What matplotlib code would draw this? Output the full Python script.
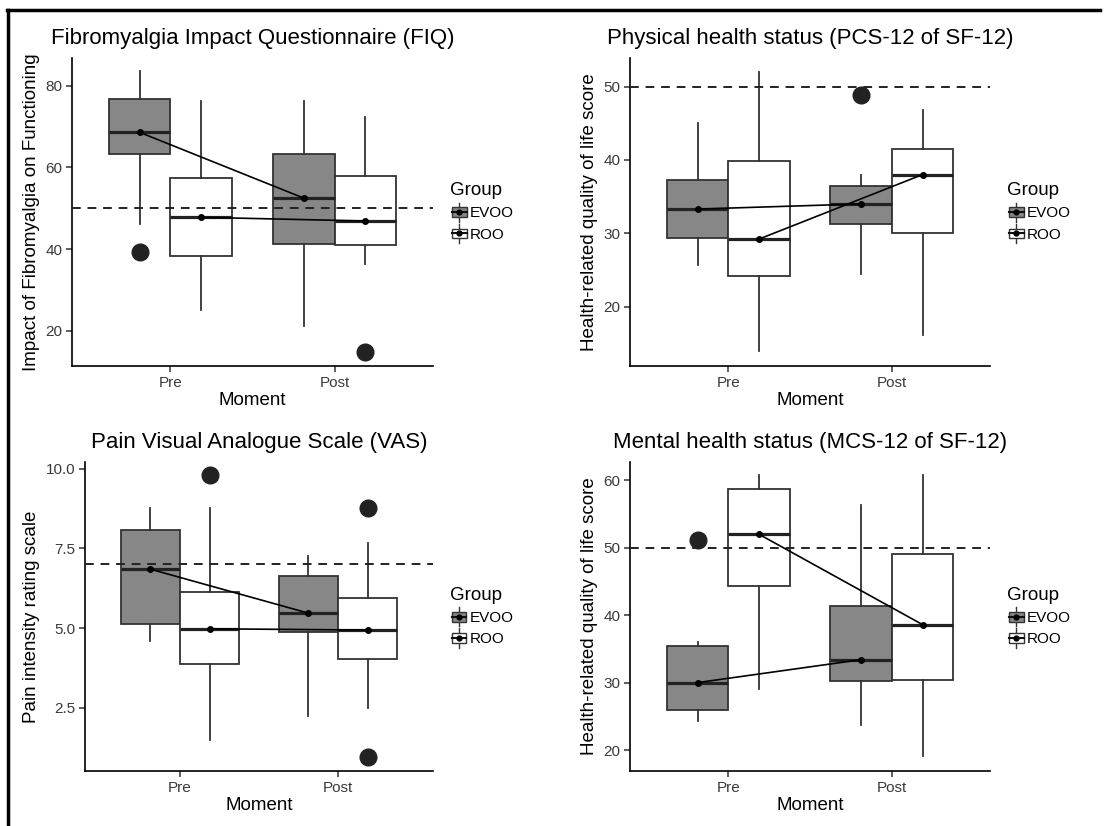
import matplotlib
matplotlib.use('Agg')
import matplotlib.pyplot as plt
from matplotlib.lines import Line2D
from matplotlib.patches import Rectangle, Patch
from matplotlib.legend_handler import HandlerBase

plt.rcParams['font.family'] = ['Liberation Sans', 'DejaVu Sans']

moments = ['Pre', 'Post']
groups = ['EVOO', 'ROO']
group_fill = {'EVOO': '#878787', 'ROO': '#ffffff'}

# five-number summaries [whislo, q1, med, q3, whishi] for Pre and Post
fiq_evoo = [[46.2, 63.3, 68.6, 76.7, 83.5], [21.2, 41.2, 52.5, 63.4, 76.2]]
fiq_roo = [[25.1, 38.4, 47.8, 57.5, 76.2], [36.3, 41.1, 46.9, 57.8, 72.3]]
fiq_evoo_out = [[39.3], []]
fiq_roo_out = [[], [14.9]]

pcs_evoo = [[25.7, 29.3, 33.3, 37.2, 45.1], [24.4, 31.2, 34.0, 36.4, 37.9]]
pcs_roo = [[13.9, 24.2, 29.2, 39.8, 52.0], [16.1, 30.0, 38.0, 41.5, 46.8]]
pcs_evoo_out = [[], [48.9]]
pcs_roo_out = [[], []]

vas_evoo = [[4.59, 5.14, 6.85, 8.08, 8.78], [2.26, 4.87, 5.47, 6.64, 7.25]]
vas_roo = [[1.50, 3.88, 4.98, 6.14, 8.78], [2.48, 4.02, 4.94, 5.95, 7.67]]
vas_evoo_out = [[], []]
vas_roo_out = [[9.79], [8.78, 0.97]]

mcs_evoo = [[24.3, 26.0, 30.0, 35.5, 36.0], [23.7, 30.2, 33.4, 41.3, 56.4]]
mcs_roo = [[29.0, 44.3, 52.0, 58.7, 60.7], [19.1, 30.4, 38.6, 49.1, 60.8]]
mcs_evoo_out = [[51.1], []]
mcs_roo_out = [[], []]

titles = ['Fibromyalgia Impact Questionnaire (FIQ)',
          'Physical health status (PCS-12 of SF-12)',
          'Pain Visual Analogue Scale (VAS)',
          'Mental health status (MCS-12 of SF-12)']
ylabels = ['Impact of Fibromyalgia on Functioning',
           'Health-related quality of life score',
           'Pain intensity rating scale',
           'Health-related quality of life score']
thresholds = [50, 50, 7, 50]
yticks = [[20, 40, 60, 80], [20, 30, 40, 50], [2.5, 5.0, 7.5, 10.0], [20, 30, 40, 50, 60]]
ytick_labels = [['20', '40', '60', '80'], ['20', '30', '40', '50'],
                ['2.5', '5.0', '7.5', '10.0'], ['20', '30', '40', '50', '60']]
ylims = [(11.4, 86.8), (11.9, 53.9), (0.52, 10.21), (16.9, 62.7)]

panels = [(fiq_evoo, fiq_roo, fiq_evoo_out, fiq_roo_out),
          (pcs_evoo, pcs_roo, pcs_evoo_out, pcs_roo_out),
          (vas_evoo, vas_roo, vas_evoo_out, vas_roo_out),
          (mcs_evoo, mcs_roo, mcs_evoo_out, mcs_roo_out)]

# axes boxes in pixels: left, right, top, bottom
W, H = 1106, 826
boxes_px = [(72, 433, 58, 366), (630, 990, 58, 366),
            (85, 433, 462, 771), (630, 990, 462, 771)]


class BoxKey(HandlerBase):
    def create_artists(self, legend, orig_handle, xdescent, ydescent,
                       width, height, fontsize, trans):
        x0, y0 = -xdescent, -ydescent
        cx, cy = x0 + width / 2, y0 + height / 2
        vline = Line2D([cx, cx], [y0 - 2, y0 + height + 2], color='#333333', lw=1.0)
        rect = Rectangle((x0 + width * 0.08, y0 + height * 0.15), width * 0.84, height * 0.7,
                         facecolor=orig_handle.get_facecolor(), edgecolor='#333333', lw=1.0)
        hline = Line2D([x0 + width * 0.08, x0 + width * 0.92], [cy, cy], color='#111111', lw=1.5)
        dot = Line2D([cx], [cy], marker='o', markersize=3.5, color='black')
        arts = [vline, rect, hline, dot]
        for a in arts:
            a.set_transform(trans)
        return arts


dodge = 0.1875
bw = 0.375

fig = plt.figure(figsize=(W / 100, H / 100), dpi=100)

for i, (evoo, roo, evoo_out, roo_out) in enumerate(panels):
    l, r, t, b = boxes_px[i]
    ax = fig.add_axes([l / W, 1 - b / H, (r - l) / W, (b - t) / H])

    handles = []
    for g, summ, outs, off in [('EVOO', evoo, evoo_out, -dodge), ('ROO', roo, roo_out, dodge)]:
        stats = []
        for k in range(2):
            lo, q1, med, q3, hi = summ[k]
            stats.append(dict(whislo=lo, q1=q1, med=med, q3=q3, whishi=hi, fliers=outs[k]))
        pos = [k + 1 + off for k in range(2)]
        ax.bxp(stats, positions=pos, widths=bw, patch_artist=True, showcaps=False,
               manage_ticks=False,
               boxprops=dict(facecolor=group_fill[g], edgecolor='#333333', linewidth=1.3),
               medianprops=dict(color='#222222', linewidth=2.3),
               whiskerprops=dict(color='#333333', linewidth=1.3),
               flierprops=dict(marker='o', markersize=12, markerfacecolor='#222222',
                               markeredgecolor='#222222'))
        meds = [s[2] for s in summ]
        ax.plot(pos, meds, color='black', lw=1.2, marker='o', markersize=4, zorder=5)
        handles.append(Patch(facecolor=group_fill[g], edgecolor='#333333'))

    ax.axhline(thresholds[i], color='#222222', lw=1.4, ls=(0, (4.5, 3.5)), zorder=4)

    ax.set_xlim(0.4, 2.6)
    ax.set_ylim(*ylims[i])
    ax.set_xticks([1, 2])
    ax.set_xticklabels(moments)
    ax.set_yticks(yticks[i])
    ax.set_yticklabels(ytick_labels[i])
    for s in ['top', 'right']:
        ax.spines[s].set_visible(False)
    for s in ['left', 'bottom']:
        ax.spines[s].set_linewidth(1.2)
        ax.spines[s].set_color('black')
    ax.tick_params(length=4, width=1.1, color='#333333', labelcolor='#3a3a3a',
                   labelsize=11, pad=3)
    ax.set_title(titles[i], fontsize=16, pad=10, color='black')
    ax.set_xlabel('Moment', fontsize=13.5, labelpad=2)
    ax.set_ylabel(ylabels[i], fontsize=13.5, labelpad=4)

    leg = ax.legend(handles, groups, title='Group', loc='center left',
                    bbox_to_anchor=(1.01, 0.5), frameon=False, fontsize=11,
                    title_fontsize=13.5, handler_map={Patch: BoxKey()},
                    handlelength=1.15, handleheight=1.0, handletextpad=0.15,
                    labelspacing=0.4, alignment='left')

# page border (top and left edges)
fig.add_artist(Line2D([7 / W, 1100 / W], [1 - 10 / H, 1 - 10 / H], color='black', lw=2.5,
                      transform=fig.transFigure))
fig.add_artist(Line2D([8 / W, 8 / W], [0, 1 - 10 / H], color='black', lw=2.5,
                      transform=fig.transFigure))

fig.savefig('out.png', dpi=100)
